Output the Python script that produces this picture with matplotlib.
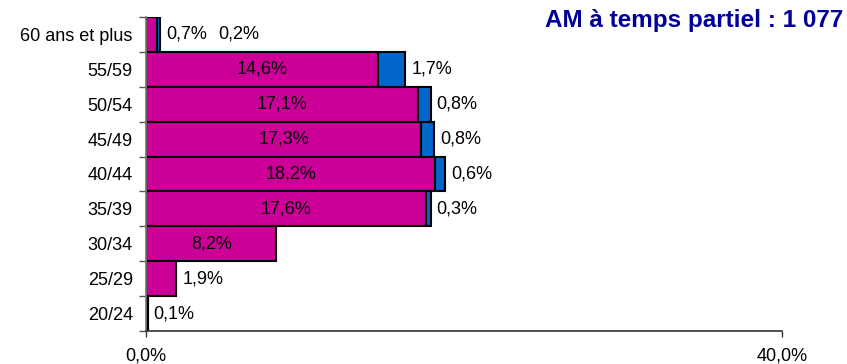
import matplotlib
matplotlib.use("Agg")
import matplotlib.pyplot as plt
import numpy as np

plt.rcParams['font.family'] = ['Liberation Sans', 'DejaVu Sans']

# Age groups, from top to bottom
categories = ["60 ans et plus", "55/59", "50/54", "45/49", "40/44",
              "35/39", "30/34", "25/29", "20/24"]
# Shares (%) of part-time AM staff by age group
women = [0.7, 14.6, 17.1, 17.3, 18.2, 17.6, 8.2, 1.9, 0.1]
men = [0.2, 1.7, 0.8, 0.8, 0.6, 0.3, 0.0, 0.0, 0.0]
x_ticks = [0, 40]
x_tick_labels = ["0,0%", "40,0%"]
title = "AM à temps partiel : 1 077"

MAGENTA = "#CC0099"
BLUE = "#0066CC"
FS = 13


def fmt(v):
    return f"{v:.1f}%".replace(".", ",")


fig = plt.figure(figsize=(8.47, 3.64), dpi=100)
ax = fig.add_axes([146 / 847, 1 - 331 / 364, (782 - 146) / 847, (331 - 17) / 364])

n = len(categories)
y = np.arange(n)[::-1]  # first category on top

ax.barh(y, women, height=1.0, color=MAGENTA, edgecolor="black", linewidth=1.5)
ax.barh(y, men, left=women, height=1.0, color=BLUE, edgecolor="black",
        linewidth=1.5)

ax.set_xlim(0, 40)
ax.set_ylim(-0.5, n - 0.5)

# value labels
for yi, w, m in zip(y, women, men):
    total = w + m
    outside = []
    if w >= 5:
        ax.text(w / 2, yi, fmt(w), ha="center", va="center", fontsize=FS,
                color="black")
    else:
        outside.append(fmt(w))
    if m > 0:
        outside.append(fmt(m))
    offset = 6
    for label in outside:
        ax.annotate(label, xy=(total, yi), xytext=(offset, 0),
                    textcoords="offset pixels", ha="left", va="center",
                    fontsize=FS, color="black")
        offset += 52

# y axis: labels at category centres, tick marks at the boundaries
ax.set_yticks(y)
ax.set_yticklabels(categories, fontsize=FS)
ax.tick_params(axis="y", which="major", length=0, pad=9.5)
ax.set_yticks(np.arange(-0.5, n, 1.0), minor=True)
ax.tick_params(axis="y", which="minor", length=5, width=1, color="#555555",
               direction="out")

ax.set_xticks(x_ticks)
ax.set_xticklabels(x_tick_labels, fontsize=FS)
ax.tick_params(axis="x", length=4, width=1, color="#333333", pad=8)

for side in ("top", "right"):
    ax.spines[side].set_visible(False)
ax.spines["left"].set_color("#777777")
ax.spines["left"].set_linewidth(1.2)
ax.spines["bottom"].set_color("#333333")
ax.spines["bottom"].set_linewidth(1.2)

fig.text(843 / 847, 1 - 20 / 364, title, ha="right", va="center",
         fontsize=17.5, fontweight="bold", color="#000099")

fig.savefig("out.png", dpi=100)
